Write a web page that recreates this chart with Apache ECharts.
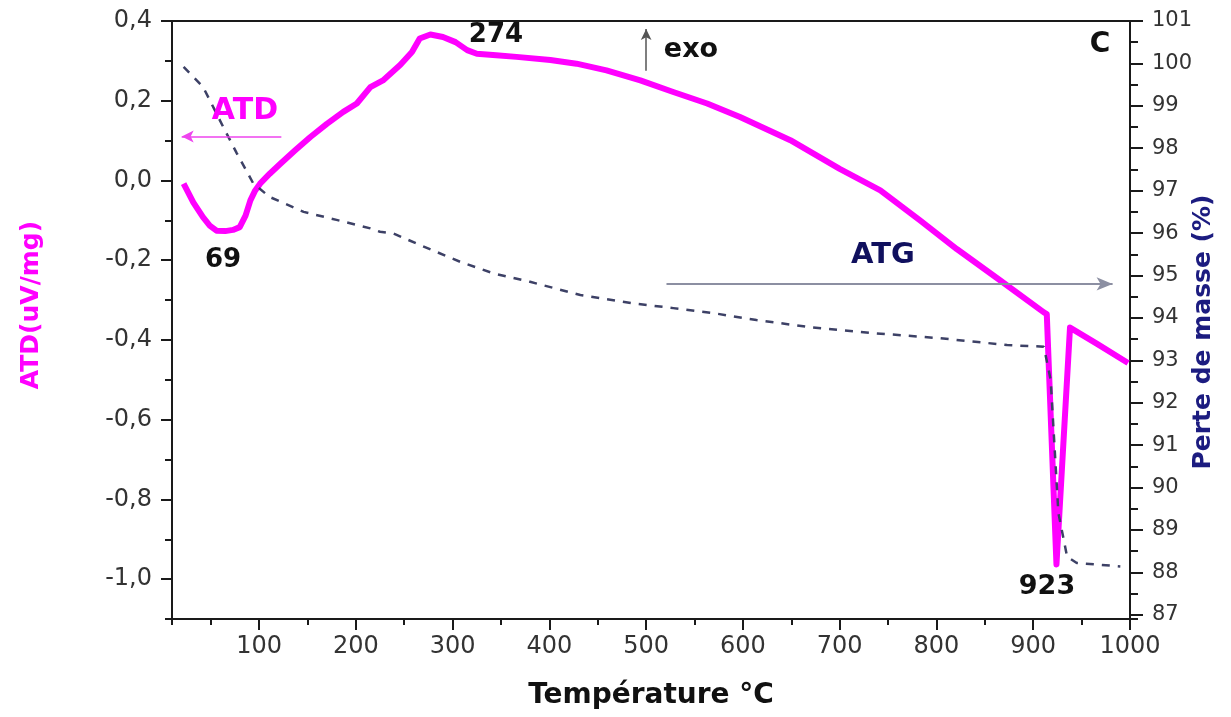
<!DOCTYPE html>
<html>
<head>
<meta charset="utf-8">
<script src="https://cdn.jsdelivr.net/npm/echarts@6/dist/echarts.min.js"></script>
<style>
html,body{margin:0;padding:0;background:#fff;}
#chart{width:1231px;height:717px;}
</style>
</head>
<body>
<div id="chart"></div>
<script>
// ---- Data ----
const atdTemperature = [22, 32, 42, 49, 56, 65, 73, 80, 86, 91, 96, 101, 111, 122, 137, 153, 170, 187, 201, 215, 228, 246, 258, 266, 277, 290, 303, 315, 325, 345, 366, 401, 428, 459, 494, 528, 563, 597, 649, 700, 742, 783, 821, 866, 911, 914, 924, 938, 966, 998];
const atdValues      = [-0.008, -0.055, -0.092, -0.113, -0.126, -0.127, -0.124, -0.117, -0.088, -0.050, -0.025, -0.008, 0.017, 0.042, 0.075, 0.109, 0.142, 0.172, 0.193, 0.234, 0.251, 0.290, 0.322, 0.356, 0.366, 0.360, 0.347, 0.327, 0.318, 0.314, 0.310, 0.302, 0.293, 0.276, 0.251, 0.222, 0.193, 0.159, 0.101, 0.029, -0.025, -0.100, -0.172, -0.251, -0.331, -0.335, -0.963, -0.369, -0.410, -0.458];

const atgTemperature = [22, 42, 63, 77, 94, 111, 146, 180, 215, 225, 239, 266, 308, 342, 380, 432, 487, 528, 570, 614, 666, 735, 804, 873, 911, 918, 926, 935, 945, 990];
const atgValues      = [99.92, 99.45, 98.50, 97.88, 97.17, 96.85, 96.50, 96.31, 96.11, 96.03, 95.99, 95.72, 95.32, 95.05, 94.85, 94.54, 94.34, 94.23, 94.11, 93.95, 93.79, 93.64, 93.52, 93.36, 93.32, 92.54, 89.40, 88.37, 88.22, 88.14];

const xTitle = 'Température °C';
const leftTitle = 'ATD(uV/mg)';
const rightTitle = 'Perte de masse (%)';
const peakLabels = ['274', '69', '923'];

const atdSeries = atdTemperature.map((t, i) => [t, atdValues[i]]);
const atgSeries = atgTemperature.map((t, i) => [t, atgValues[i]]);

const FONT = 'DejaVu Sans';
const AX = '#1a1a1a';
const commaFmt = v => {
  const s = (Math.round(v * 10) / 10).toFixed(1).replace('.', ',');
  return s === '-0,0' ? '0,0' : s;
};
const plainFmt = v => String(Math.round(v));

const chart = echarts.init(document.getElementById('chart'), null, {renderer: 'canvas'});
const option = {
  backgroundColor: '#ffffff',
  animation: false,
  grid: {left: 172, right: 101, top: 21, bottom: 98, containLabel: false},
  xAxis: [
    {
      type: 'value', position: 'bottom', min: 10, max: 1000,
      splitNumber: 10, minInterval: 100, maxInterval: 100,
      axisLine: {show: true, onZero: false, lineStyle: {color: AX, width: 2}},
      axisTick: {show: true, length: 11, lineStyle: {color: AX, width: 2}},
      axisLabel: {show: true, showMinLabel: false, formatter: plainFmt, fontFamily: FONT, fontSize: 24, color: '#333', margin: 16},
      splitLine: {show: false},
      name: xTitle, nameLocation: 'middle', nameGap: 63,
      nameTextStyle: {fontFamily: FONT, fontWeight: 'bold', fontSize: 28, color: '#111'}
    },
    {
      type: 'value', position: 'bottom', min: 10, max: 1000,
      splitNumber: 20, minInterval: 50, maxInterval: 50,
      axisLine: {show: false, onZero: false},
      axisTick: {show: true, length: 6, lineStyle: {color: AX, width: 2}},
      axisLabel: {show: false}, splitLine: {show: false}
    },
    {
      type: 'value', position: 'top', min: 10, max: 1000,
      axisLine: {show: true, onZero: false, lineStyle: {color: AX, width: 2}},
      axisTick: {show: false}, axisLabel: {show: false}, splitLine: {show: false}
    }
  ],
  yAxis: [
    {
      type: 'value', position: 'left', min: -1.1, max: 0.4,
      splitNumber: 8, minInterval: 0.2, maxInterval: 0.2,
      axisLine: {show: true, onZero: false, lineStyle: {color: AX, width: 2}},
      axisTick: {show: true, length: 11, lineStyle: {color: AX, width: 2}},
      axisLabel: {show: true, showMinLabel: false, formatter: commaFmt, fontFamily: FONT, fontSize: 24, color: '#333', margin: 20},
      splitLine: {show: false}
    },
    {
      type: 'value', position: 'left', min: -1.1, max: 0.4,
      splitNumber: 15, minInterval: 0.1, maxInterval: 0.1,
      axisLine: {show: false, onZero: false},
      axisTick: {show: true, length: 7, lineStyle: {color: AX, width: 2}},
      axisLabel: {show: false}, splitLine: {show: false}
    },
    {
      type: 'value', position: 'right', min: 86.9, max: 101,
      splitNumber: 14, minInterval: 1, maxInterval: 1,
      axisLine: {show: true, onZero: false, lineStyle: {color: AX, width: 2}},
      axisTick: {show: true, length: 13, lineStyle: {color: AX, width: 2}},
      axisLabel: {show: true, showMinLabel: false, formatter: plainFmt, fontFamily: FONT, fontSize: 21, color: '#333', margin: 22},
      splitLine: {show: false}
    },
    {
      type: 'value', position: 'right', min: 86.9, max: 101,
      splitNumber: 28, minInterval: 0.5, maxInterval: 0.5,
      axisLine: {show: false, onZero: false},
      axisTick: {show: true, length: 8, lineStyle: {color: AX, width: 2}},
      axisLabel: {show: false}, splitLine: {show: false}
    }
  ],
  series: [
    {
      name: 'ATD', type: 'line', xAxisIndex: 0, yAxisIndex: 0,
      data: atdSeries, symbol: 'none', showSymbol: false, smooth: false, z: 2,
      lineStyle: {color: '#ff00ff', width: 6, join: 'round'},
      markLine: {
        silent: true, animation: false,
        label: {show: false},
        data: [
          [
            {coord: [123, 0.11], symbol: 'none', lineStyle: {color: '#ee44ee', width: 1.5, type: 'solid'}},
            {coord: [20, 0.11], symbol: 'arrow', symbolSize: [9, 12], itemStyle: {color: '#ee22ee'}}
          ],
          [
            {coord: [500, 0.275], symbol: 'none', lineStyle: {color: '#555', width: 1.5, type: 'solid'}},
            {coord: [500, 0.38], symbol: 'arrow', symbolSize: [8, 11], itemStyle: {color: '#111'}}
          ]
        ]
      }
    },
    {
      name: 'ATG', type: 'line', xAxisIndex: 0, yAxisIndex: 2,
      data: atgSeries, symbol: 'none', showSymbol: false, smooth: false, z: 3,
      lineStyle: {color: '#3d4166', width: 2.5, type: [8, 8]},
      markLine: {
        silent: true, animation: false,
        label: {show: false},
        data: [
          [
            {coord: [521, 94.8], symbol: 'none', lineStyle: {color: '#8c8fa2', width: 2, type: 'solid'}},
            {coord: [982, 94.8], symbol: 'arrow', symbolSize: [10, 16], itemStyle: {color: '#1a1a5e'}}
          ]
        ]
      }
    }
  ],
  graphic: [
    {type: 'text', x: 31, y: 305, rotation: Math.PI / 2, z: 10,
      style: {text: leftTitle, fill: '#ff00ff', font: 'bold 25px "DejaVu Sans"', align: 'center', verticalAlign: 'middle'}},
    {type: 'text', x: 1203, y: 332, rotation: Math.PI / 2, z: 10,
      style: {text: rightTitle, fill: '#1c1c80', font: 'bold 25px "DejaVu Sans"', align: 'center', verticalAlign: 'middle'}},
    {type: 'text', x: 496, y: 35, z: 10,
      style: {text: peakLabels[0], fill: '#111', font: 'bold 26px "DejaVu Sans"', align: 'center', verticalAlign: 'middle'}},
    {type: 'text', x: 223, y: 260, z: 10,
      style: {text: peakLabels[1], fill: '#111', font: 'bold 26px "DejaVu Sans"', align: 'center', verticalAlign: 'middle'}},
    {type: 'text', x: 1047, y: 587, z: 10,
      style: {text: peakLabels[2], fill: '#111', font: 'bold 27px "DejaVu Sans"', align: 'center', verticalAlign: 'middle'}},
    {type: 'text', x: 691, y: 50, z: 10,
      style: {text: 'exo', fill: '#111', font: 'bold 27px "DejaVu Sans"', align: 'center', verticalAlign: 'middle'}},
    {type: 'text', x: 1100, y: 45, z: 10,
      style: {text: 'C', fill: '#111', font: 'bold 28px "DejaVu Sans"', align: 'center', verticalAlign: 'middle'}},
    {type: 'text', x: 245, y: 111, z: 10,
      style: {text: 'ATD', fill: '#ff00ff', font: 'bold 30px "DejaVu Sans"', align: 'center', verticalAlign: 'middle'}},
    {type: 'text', x: 883, y: 255, z: 10,
      style: {text: 'ATG', fill: '#10105e', font: 'bold 29px "DejaVu Sans"', align: 'center', verticalAlign: 'middle'}}
  ]
};
chart.setOption(option);
</script>
</body>
</html>
